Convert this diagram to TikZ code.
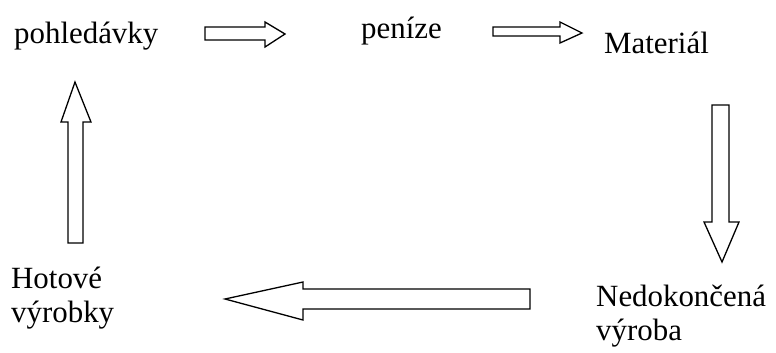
\documentclass[tikz,border=0pt]{standalone}
\usepackage{fontspec}
\setmainfont{Liberation Serif}
\begin{document}
\begin{tikzpicture}[x=1bp,y=-1bp,
  lbl/.style={anchor=base west,inner sep=0pt,font=\fontsize{31}{35}\selectfont},
  blockarrow/.style={draw=black,fill=white,line width=1.3bp,line join=miter}]
\useasboundingbox (0,0) rectangle (776,352);
% labels of the cycle
\node[lbl] (pohl) at (14,43) {pohledávky};
\node[lbl] (pen) at (361,38) {peníze};
\node[lbl] (mat) at (604,53) {Materiál};
\node[lbl] (ned) at (596,306) {Nedokončená};
\node[lbl] (nedb) at (596,340) {výroba};
\node[lbl] (hot) at (11,288) {Hotové};
\node[lbl] (hotb) at (11,322) {výrobky};
% block arrows between the stages
\draw[blockarrow] (205,27) -- (265,27) -- (265,22) -- (285,34) -- (265,47) -- (265,40) -- (205,40) -- cycle;
\draw[blockarrow] (493,27) -- (560,27) -- (560,22) -- (582,33) -- (560,43) -- (560,36) -- (493,36) -- cycle;
\draw[blockarrow] (712,105) -- (729,105) -- (729,222) -- (739,222) -- (722,262) -- (704,222) -- (712,222) -- cycle;
\draw[blockarrow] (530,289) -- (303,289) -- (303,282) -- (225,299) -- (303,320) -- (303,309) -- (530,309) -- cycle;
\draw[blockarrow] (68,243) -- (68,122) -- (61,122) -- (75,82) -- (91,122) -- (83,122) -- (83,243) -- cycle;
\end{tikzpicture}
\end{document}
